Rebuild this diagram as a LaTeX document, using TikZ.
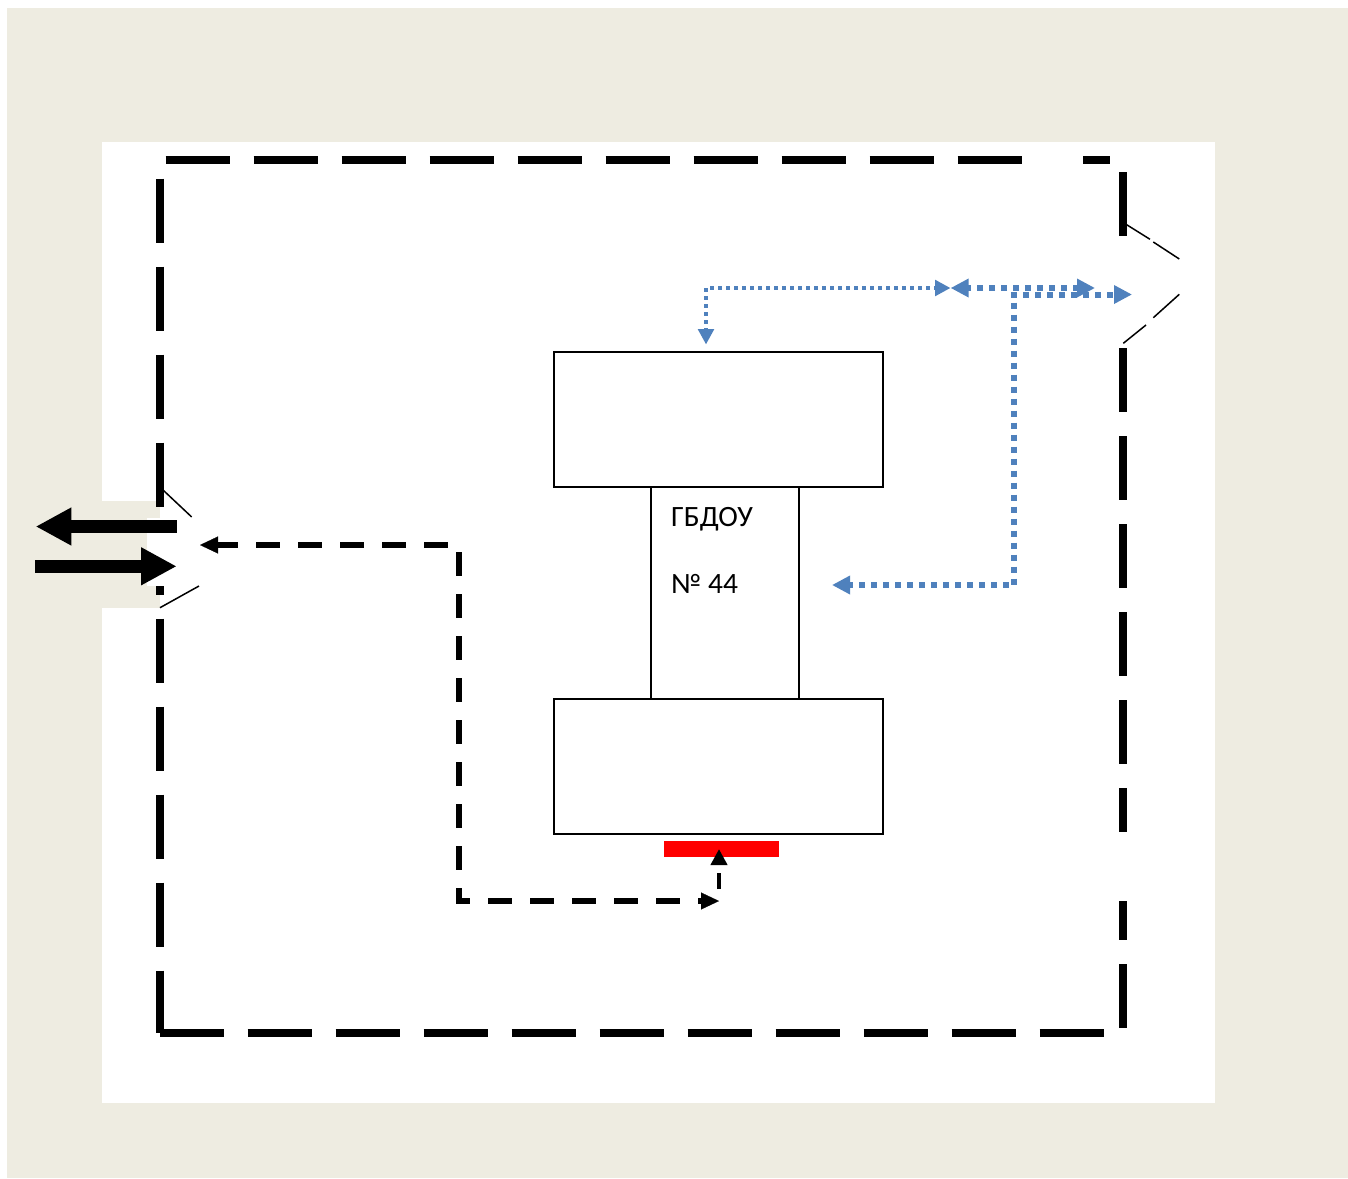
\documentclass[tikz,border=0pt]{standalone}
\usepackage{fontspec}
\setmainfont{Carlito}
\usetikzlibrary{arrows.meta}
\definecolor{beige}{HTML}{EEECE1}
\definecolor{routeblue}{HTML}{4F81BD}
\tikzset{
  x=1pt,y=-1pt,
  fence/.style={line width=8pt,dash pattern=on 64pt off 24pt},
  gateleaf/.style={line width=1.5pt},
  house/.style={draw,line width=2pt,fill=white,anchor=north west,inner sep=0pt,outer sep=0pt},
  label/.style={anchor=base west,inner sep=0pt,font=\fontsize{29.5}{30}\selectfont},
  bigarrow/.style={line width=12.5pt,-{Triangle[length=35.7pt,width=35.5pt]}},
  blacktrunk/.style={line width=5.5pt,dash pattern=on 24pt off 18pt,dash phase=28pt},
  blackhead/.style={line width=0.2pt,-{Triangle[length=18pt,width=17pt]}},
  blackshort/.style={line width=4.5pt,-{Triangle[length=16pt,width=16pt]}},
  thinblue/.style={routeblue,line width=4pt,dash pattern=on 4pt off 4pt,-{Triangle[length=15.5pt,width=15.5pt]}},
  thickblue/.style={routeblue,line width=6pt,dash pattern=on 6pt off 6pt,-{Triangle[length=18pt,width=17.6pt]}},
}
\begin{document}
\begin{tikzpicture}
\useasboundingbox (0,0) rectangle (1348,1178);
\fill[white] (0,0) rectangle (1348,1178);
\fill[beige] (7,8) rectangle (1348,1178);
\fill[white] (102,142) rectangle (1215,1103);
\fill[beige] (102,501) rectangle (160,608);
% fence
\draw[fence] (165.5,160.3) -- (1110,160.3);
\draw[fence] (159.5,178.5) -- (159.5,1033);
\draw[fence] (159.5,1033.3) -- (1104,1033.3);
\draw[fence] (1122.7,172) -- (1122.7,1028);
% gate openings
\fill[white] (147,518.3) rectangle (205,586);
\fill[white] (1100,832) rectangle (1140,901);
\fill[white] (1022.5,150) rectangle (1083.3,170);
\fill[white] (1112,236) rectangle (1135,348);
\draw[gateleaf] (163,490) -- (191.7,517);
\draw[gateleaf] (160,607.7) -- (199,586);
\draw[gateleaf] (1126,224.3) -- (1150,239.3);
\draw[gateleaf] (1153.3,242) -- (1179.3,259);
\draw[gateleaf] (1123.3,343.3) -- (1146,325);
\draw[gateleaf] (1153.3,317.7) -- (1179.3,294.3);
% building
\node[house,minimum width=329pt,minimum height=135pt] (wingtop) at (554,352) {};
\node[house,minimum width=329pt,minimum height=134.5pt] (wingbot) at (554,699) {};
\node[house,minimum width=147.5pt,minimum height=212pt] (hall) at (651,486.5) {};
\node[label] (t1) at (671,526) {ГБДОУ};
\node[label] (t2) at (671,593.7) {№ 44};
\fill[red] (663.5,841) rectangle (778.7,856.7);
% big arrows
\coordinate (oa) at (176.7,526.5); \coordinate (ob) at (35.7,526.5);
\coordinate (ia) at (35.3,566.3); \coordinate (ib) at (176.7,566.3);
\draw[bigarrow] (oa) -- (ob);
\draw[bigarrow] (ia) -- (ib);
% black route
\coordinate (r0) at (719,901); \coordinate (r1) at (459,901); \coordinate (r2) at (459,545); \coordinate (r3) at (200,545);
\coordinate (r3h) at (218.5,545); \coordinate (r0h) at (700.5,901);
\draw[blacktrunk] (r3) -- (r2) -- (r1) -- (r0h);
\draw[blackhead] (r3h) -- (r3);
\draw[blackhead] (r0h) -- (r0);
\coordinate (u0) at (719,889); \coordinate (u1) at (719,849);
\draw[blackshort,dash pattern=on 16pt off 40pt] (u0) -- (u1);
% blue routes
\coordinate (b0) at (706,288); \coordinate (b1) at (706,344.5); \coordinate (b2) at (710,288); \coordinate (b3) at (950.5,288);
\draw[thinblue] (b0) -- (b1);
\draw[thinblue] (b2) -- (b3);
\coordinate (c0) at (1019,288); \coordinate (c1) at (950.6,288); \coordinate (c2) at (1025,288); \coordinate (c3) at (1095,288);
\draw[thickblue] (c0) -- (c1);
\draw[thickblue] (c2) -- (c3);
\coordinate (d0) at (1014.3,302.7); \coordinate (d1) at (1014.3,585); \coordinate (d2) at (832,585); \coordinate (d3) at (1011.3,294.5); \coordinate (d4) at (1132,294.5);
\draw[thickblue] (d0) -- (d1) -- (d2);
\draw[thickblue] (d3) -- (d4);
\end{tikzpicture}
\end{document}
